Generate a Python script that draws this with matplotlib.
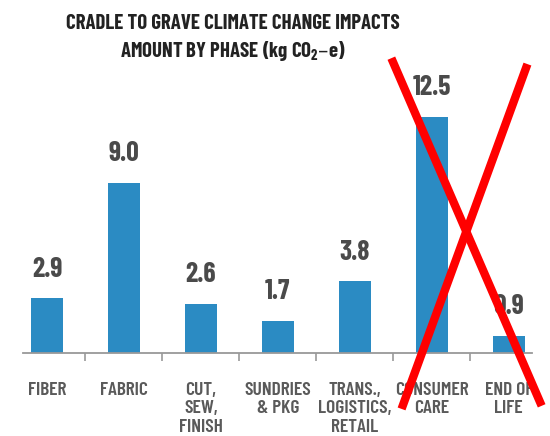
import numpy as np
import matplotlib.pyplot as plt
from matplotlib.lines import Line2D

phases = ['FIBER', 'FABRIC', 'CUT,\nSEW,\nFINISH', 'SUNDRIES\n& PKG',
          'TRANS.,\nLOGISTICS,\nRETAIL', 'CONSUMER\nCARE', 'END OF\nLIFE']
impacts = [2.9, 9.0, 2.6, 1.7, 3.8, 12.5, 0.9]
value_labels = ['2.9', '9.0', '2.6', '1.7', '3.8', '12.5', '0.9']

cond = ['Barlow Condensed', 'DejaVu Sans']
bar_col = '#2b8bc3'
txt_col = '#4a4a4a'

fig = plt.figure(figsize=(5.5, 4.36), dpi=100)
ax = fig.add_axes([0.042, 0.19, 0.925, 0.607])

x = np.arange(len(phases))
ax.bar(x, impacts, width=0.41, color=bar_col)
for xi, v, lab in zip(x, impacts, value_labels):
    ax.annotate(lab, (xi, v), xytext=(0, 12), textcoords='offset points',
                ha='center', va='bottom', fontsize=20, fontweight='bold',
                family=cond, color=txt_col)

ax.set_xlim(-0.31, 6.3)
ax.set_ylim(0, 14)
ax.set_yticks([])
for s in ['top', 'right', 'left']:
    ax.spines[s].set_visible(False)
ax.spines['bottom'].set_color('#999999')
ax.spines['bottom'].set_linewidth(1.3)

# ticks sit between categories, labels at centres
ax.set_xticks(x[:-1] + 0.5)
ax.set_xticklabels([])
ax.tick_params(axis='x', length=6, width=1.2, color='#999999', direction='out')
for xi, lab in zip(x, phases):
    ax.text(xi, -1.5, lab, ha='center', va='top', fontsize=14,
            fontweight='semibold', family=cond, color='#5a5a5a', linespacing=1.15)

fig.text(0.424, 0.947, 'CRADLE TO GRAVE CLIMATE CHANGE IMPACTS',
         ha='center', va='center', fontsize=15, fontweight='bold',
         family=cond, color='#222222')
fig.text(0.424, 0.882, 'AMOUNT BY PHASE (kg CO$_\\mathregular{2}$–e)',
         ha='center', va='center', fontsize=15, fontweight='bold',
         family=cond, color='#222222')

# red cross over the last two phases
fig.add_artist(Line2D([393 / 550, 540 / 550], [1 - 62 / 436, 1 - 402 / 436],
                      transform=fig.transFigure, color='#ff0000', lw=6))
fig.add_artist(Line2D([526 / 550, 403 / 550], [1 - 68 / 436, 1 - 405 / 436],
                      transform=fig.transFigure, color='#ff0000', lw=6))

fig.savefig('out.png', dpi=100)
